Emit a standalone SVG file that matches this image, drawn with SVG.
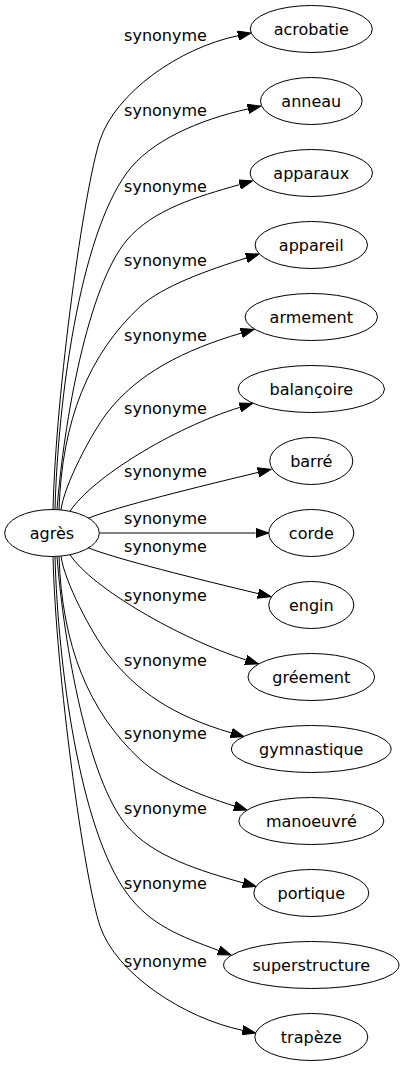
<svg xmlns="http://www.w3.org/2000/svg" width="404" height="1067" viewBox="0 0 404 1067">
<style>
.n ellipse{fill:#fff;stroke:#000;stroke-width:1}
text{font-family:"DejaVu Sans","Verdana",sans-serif;font-size:16px;fill:#000}
.n text{text-anchor:middle}
.e path{fill:none;stroke:#000;stroke-width:1;marker-end:url(#arr)}
.e text{text-anchor:middle}
</style>
<defs>
<marker id="arr" markerUnits="userSpaceOnUse" markerWidth="14" markerHeight="10" viewBox="0 -5 14 10" refX="0" refY="0" orient="auto">
<path d="M0,-4.7 L13.3,0 L0,4.7 Z" fill="#000" stroke="#000" stroke-width="1"/>
</marker>
</defs>
<rect width="404" height="1067" fill="#fff"/>
<g id="connectors" class="e">
<g id="e-acrobatie"><path d="M53,509.5 C56,390 84.2,187.5 100,140 C115.8,92.6 179.3,47.9 238,35.7"/><text x="165.5" y="40.7">synonyme</text></g>
<g id="e-anneau"><path d="M55,509.5 C58,400 79.5,237.8 126.7,173 C150.3,140.6 199.2,119.8 248,108.9"/><text x="165.5" y="115.7">synonyme</text></g>
<g id="e-apparaux"><path d="M57,509.5 C64,420 88.1,285.7 127,240 C152.9,209.5 196.5,196.8 239.7,184.6"/><text x="165.5" y="192.3">synonyme</text></g>
<g id="e-appareil"><path d="M59,509.8 C62,420 88.8,354.4 140,306.7 C162,286.3 208.2,270 246.3,258"/><text x="165.5" y="265.7">synonyme</text></g>
<g id="e-armement"><path d="M61,510 C64,485 91.8,432.8 107,413 C137.5,373.5 183.7,350.1 241.25,333.1"/><text x="165.5" y="340.7">synonyme</text></g>
<g id="e-balancoire"><path d="M70,511.3 C92,477.9 172.9,427.9 239.8,407.4"/><text x="165.5" y="414">synonyme</text></g>
<g id="e-barre"><path d="M88,518.3 C115.8,507 199.8,486.4 258.1,472.4"/><text x="165.5" y="477.3">synonyme</text></g>
<g id="e-corde"><path d="M99.5,533 L255.5,533"/><text x="165.5" y="524">synonyme</text></g>
<g id="e-engin"><path d="M88,547.7 C115.8,559 199.8,579.6 258.1,593.6"/><text x="165.5" y="552.3">synonyme</text></g>
<g id="e-greement"><path d="M70,554.7 C92,588.1 179.3,638.3 245.85,659.9"/><text x="165.5" y="601">synonyme</text></g>
<g id="e-gymnastique"><path d="M61,556 C64,581 91.8,633.2 107,653 C137.5,692.5 173.7,715.9 231.25,732.9"/><text x="165.5" y="665.7">synonyme</text></g>
<g id="e-manoeuvre"><path d="M59,556.2 C62,646 88.8,711.6 140,759.3 C162,779.7 196.2,794 234.3,806"/><text x="165.5" y="739">synonyme</text></g>
<g id="e-portique"><path d="M57,556.5 C64,646 88.1,780.3 127,826 C152.9,856.5 200,870.8 243.2,882.9"/><text x="165.5" y="814">synonyme</text></g>
<g id="e-superstructure"><path d="M55,556.5 C58,666 79.5,828.2 126.7,893 C150.3,925.4 181,936.5 218.5,950.4"/><text x="165.5" y="889">synonyme</text></g>
<g id="e-trapeze"><path d="M53,556.5 C56,676 84.2,878.5 100,926 C115.8,973.4 183.8,1018.1 242.5,1030.3"/><text x="165.5" y="967.3">synonyme</text></g>
</g>
<g id="agres" class="n"><ellipse cx="52" cy="533" rx="47.3" ry="23.5"/><text x="52" y="539">agrès</text></g>
<g id="acrobatie" class="n"><ellipse cx="311.3" cy="29" rx="61" ry="23.5"/><text x="311.3" y="35">acrobatie</text></g>
<g id="anneau" class="n"><ellipse cx="311.3" cy="101" rx="50.8" ry="23.5"/><text x="311.3" y="107">anneau</text></g>
<g id="apparaux" class="n"><ellipse cx="311.3" cy="173" rx="61.2" ry="23.5"/><text x="311.3" y="179">apparaux</text></g>
<g id="appareil" class="n"><ellipse cx="311.3" cy="245" rx="56.2" ry="23.5"/><text x="311.3" y="251">appareil</text></g>
<g id="armement" class="n"><ellipse cx="311.3" cy="317" rx="66.2" ry="23.5"/><text x="311.3" y="323">armement</text></g>
<g id="balancoire" class="n"><ellipse cx="311.3" cy="389" rx="73.2" ry="23.5"/><text x="311.3" y="395">balançoire</text></g>
<g id="barre" class="n"><ellipse cx="311.3" cy="461" rx="41.5" ry="23.5"/><text x="311.3" y="467">barré</text></g>
<g id="corde" class="n"><ellipse cx="311.3" cy="533" rx="42.5" ry="23.5"/><text x="311.3" y="539">corde</text></g>
<g id="engin" class="n"><ellipse cx="311.3" cy="605" rx="42.5" ry="23.5"/><text x="311.3" y="611">engin</text></g>
<g id="greement" class="n"><ellipse cx="311.3" cy="677" rx="63.3" ry="23.5"/><text x="311.3" y="683">gréement</text></g>
<g id="gymnastique" class="n"><ellipse cx="311.3" cy="749" rx="79.8" ry="23.5"/><text x="311.3" y="755">gymnastique</text></g>
<g id="manoeuvre" class="n"><ellipse cx="311.3" cy="821" rx="72.5" ry="23.5"/><text x="311.3" y="827">manoeuvré</text></g>
<g id="portique" class="n"><ellipse cx="311.3" cy="893" rx="57.5" ry="23.5"/><text x="311.3" y="899">portique</text></g>
<g id="superstructure" class="n"><ellipse cx="311.3" cy="965" rx="87.7" ry="23.5"/><text x="311.3" y="971">superstructure</text></g>
<g id="trapeze" class="n"><ellipse cx="311.3" cy="1037" rx="56.5" ry="23.5"/><text x="311.3" y="1043">trapèze</text></g>
</svg>
